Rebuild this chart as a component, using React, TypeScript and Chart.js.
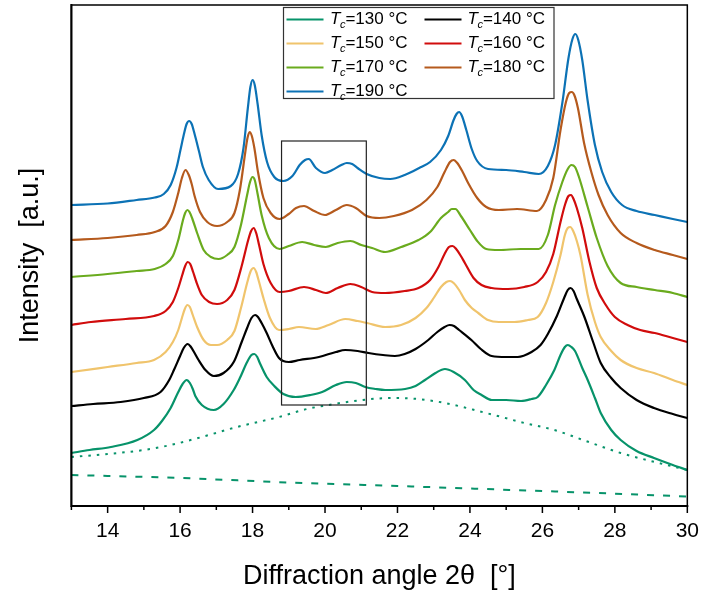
import React, { useEffect, useRef } from "react";
import { Chart, registerables } from "chart.js";

Chart.register(...registerables);

// ---------- data ----------
const X_MIN = 13;
const X_MAX = 30;
const Y_MIN = 0;
const Y_MAX = 501;
const xTickValues = [13, 14, 15, 16, 17, 18, 19, 20, 21, 22, 23, 24, 25, 26, 27, 28, 29, 30];

const seriesTemps = ["130", "140", "150", "160", "170", "180", "190"];
const seriesColors = ["#07936a", "#000000", "#f0c46c", "#d10c0c", "#6aab1e", "#b55a1d", "#0c72b5"];

// [2θ, intensity] pairs, one list per crystallisation temperature
const s190: number[][] = [[13,301],[14,302.5],[14.8,306],[15.3,308.5],[15.55,312],[15.74,321],[15.9,338],[16.01,356],[16.1,371],[16.18,382],[16.25,385],[16.32,382],[16.4,372],[16.52,355],[16.63,339],[16.79,326],[17.05,317],[17.4,320],[17.6,332],[17.75,358],[17.87,398],[17.94,419],[18.0,426],[18.06,421],[18.14,402],[18.25,371],[18.4,344],[18.6,329],[18.85,325],[19.1,330],[19.3,341],[19.45,346],[19.55,347],[19.75,338],[20.0,333],[20.2,336],[20.45,341],[20.6,343],[20.75,342],[20.9,338],[21.15,332],[21.5,328],[21.8,327],[22.2,331],[22.6,338],[22.9,344],[23.2,356],[23.4,370],[23.55,386],[23.63,392],[23.7,394],[23.78,390],[23.9,376],[24.05,357],[24.2,345],[24.5,337],[25.0,336],[25.5,334],[25.9,332],[26.15,340],[26.35,361],[26.55,403],[26.72,448],[26.83,467],[26.91,472],[26.99,466],[27.1,446],[27.25,405],[27.45,361],[27.65,334],[27.9,314],[28.2,301],[28.6,295],[29.1,291],[29.6,287],[30,284]];

const s180: number[][] = [[13,266],[14,268],[14.8,271],[15.3,274],[15.6,280],[15.8,294],[15.95,313],[16.05,328],[16.15,336],[16.24,331],[16.32,322],[16.4,310],[16.55,294],[16.75,284],[17.02,280],[17.3,284],[17.5,293],[17.65,316],[17.8,354],[17.86,368],[17.92,374],[17.98,370],[18.05,358],[18.15,334],[18.3,308],[18.5,293],[18.75,287],[19.0,292],[19.2,298],[19.42,300],[19.7,295],[20.0,291],[20.3,296],[20.6,301],[20.85,298],[21.15,290],[21.5,288],[21.9,290],[22.4,296],[22.8,306],[23.1,319],[23.3,334],[23.45,344],[23.55,346],[23.65,343],[23.8,334],[23.95,323],[24.2,308],[24.45,299],[24.8,296],[25.3,297],[25.85,295],[26.1,306],[26.3,328],[26.5,376],[26.65,404],[26.74,413],[26.81,414],[26.88,411],[26.98,398],[27.15,363],[27.35,334],[27.55,311],[27.8,291],[28.16,273],[28.6,263],[29.1,256],[29.6,251],[30,247]];

const s170: number[][] = [[13,229],[14,232],[14.8,235],[15.3,237],[15.6,242],[15.8,250],[15.95,266],[16.08,286],[16.14,293],[16.2,296],[16.26,294],[16.34,287],[16.47,273],[16.65,256],[16.85,249],[17.06,247],[17.3,251],[17.5,259],[17.68,281],[17.85,311],[17.93,324],[18.0,329],[18.06,326],[18.14,312],[18.25,291],[18.45,268],[18.75,257],[19.0,260],[19.37,264],[19.7,261],[20.02,259],[20.35,263],[20.7,265],[21.0,261],[21.3,258],[21.66,254],[22.1,259],[22.58,266],[22.9,274],[23.2,288],[23.4,294],[23.5,297],[23.6,297],[23.75,290],[24.0,276],[24.2,265],[24.45,257],[24.8,256],[25.4,257],[25.9,257],[26.15,271],[26.35,301],[26.55,324],[26.7,337],[26.8,341],[26.9,339],[27.0,330],[27.25,299],[27.5,268],[27.8,240],[28.16,223],[28.6,219],[29.1,216],[29.6,213],[30,209]];

const s160: number[][] = [[13,181],[13.54,184],[14.5,187],[15.28,190],[15.6,195],[15.8,204],[15.95,218],[16.06,231],[16.14,240],[16.21,244],[16.28,242],[16.36,234],[16.45,224],[16.6,211],[16.8,204],[17.02,202],[17.3,206],[17.5,216],[17.7,240],[17.88,266],[17.96,275],[18.03,278],[18.1,273],[18.18,261],[18.3,242],[18.5,223],[18.75,214],[19.0,215],[19.42,219],[19.75,216],[20.02,213],[20.35,218],[20.7,222],[21.0,219],[21.3,214],[21.66,213],[22.2,215],[22.58,218],[22.9,226],[23.13,239],[23.3,252],[23.42,259],[23.52,260],[23.62,257],[23.75,250],[23.86,243],[24.1,228],[24.32,221],[24.6,218],[25.05,217],[25.5,219],[25.87,224],[26.1,234],[26.3,252],[26.5,284],[26.63,302],[26.72,310],[26.79,311],[26.86,307],[26.95,298],[27.1,278],[27.3,244],[27.5,218],[27.75,201],[28.0,189],[28.35,181],[28.7,176],[29.1,173],[29.6,168],[30,164]];

const s150: number[][] = [[13,134],[14,139],[14.8,143],[15.28,146],[15.6,154],[15.8,164],[15.95,176],[16.05,188],[16.13,197],[16.2,201],[16.27,199],[16.35,191],[16.47,179],[16.65,166],[16.85,161],[17.02,161],[17.3,166],[17.5,175],[17.68,198],[17.85,223],[17.95,235],[18.03,238],[18.1,234],[18.18,224],[18.3,208],[18.48,188],[18.73,176],[19.0,177],[19.28,179],[19.74,177],[20.1,181],[20.56,187],[20.9,185],[21.16,183],[21.66,179],[22.1,181],[22.5,188],[22.8,198],[23.0,208],[23.2,219],[23.35,224],[23.45,225],[23.55,223],[23.7,216],[23.86,206],[24.05,198],[24.23,193],[24.5,186],[24.8,184],[25.23,184],[25.6,186],[25.87,189],[26.1,203],[26.3,224],[26.5,251],[26.62,271],[26.7,278],[26.77,279],[26.85,275],[26.95,265],[27.05,251],[27.25,211],[27.45,184],[27.61,169],[27.9,155],[28.16,146],[28.6,138],[29.08,133],[29.6,126],[30,121]];

const s140: number[][] = [[13,100],[13.6,102],[14.36,104],[15.0,108],[15.46,114],[15.7,126],[15.83,136],[16.0,150],[16.1,158],[16.21,162],[16.3,159],[16.4,153],[16.51,146],[16.7,136],[16.93,130],[17.2,133],[17.48,144],[17.7,164],[17.85,178],[17.97,188],[18.07,191],[18.15,189],[18.25,183],[18.39,173],[18.55,160],[18.73,148],[19.0,144],[19.3,146],[19.83,149],[20.3,154],[20.56,156],[20.9,155],[21.2,153],[21.6,151],[21.93,150],[22.2,152],[22.5,157],[22.85,166],[23.1,174],[23.3,179],[23.44,181],[23.56,180],[23.7,176],[24.04,166],[24.3,157],[24.6,150],[25.0,149],[25.32,149],[25.7,154],[25.95,161],[26.15,172],[26.4,190],[26.6,208],[26.7,216],[26.78,218],[26.86,215],[26.95,207],[27.16,189],[27.4,164],[27.61,143],[27.9,128],[28.16,118],[28.6,106],[29.08,98],[29.6,92],[30,88]];

const s130: number[][] = [[13,53],[13.5,56],[14.09,59],[14.82,66],[15.28,76],[15.5,85],[15.74,98],[15.95,114],[16.07,122],[16.18,126],[16.27,123],[16.35,117],[16.42,110],[16.6,101],[16.93,96],[17.2,102],[17.48,116],[17.65,128],[17.85,144],[17.97,151],[18.05,152],[18.13,149],[18.2,143],[18.39,129],[18.6,120],[18.85,112],[19.19,109],[19.6,111],[19.92,114],[20.3,121],[20.6,124],[20.85,123],[21.11,119],[21.4,117],[21.66,116],[22.21,117],[22.5,120],[22.76,126],[23.05,133],[23.31,137],[23.55,134],[23.86,126],[24.1,116],[24.32,111],[24.6,106],[25.0,106],[25.41,105],[25.7,107],[25.87,109],[26.1,121],[26.33,136],[26.5,151],[26.62,159],[26.7,161],[26.8,159],[26.9,155],[27.1,138],[27.25,126],[27.45,108],[27.61,93],[27.9,76],[28.16,66],[28.6,55],[29.08,48],[29.6,41],[30,36]];

// amorphous halo (dotted) and baseline (dashed) of the 130 °C fit
const halo130: number[][] = [[13,49],[14,52],[15,56],[15.74,61],[16.5,68],[17.57,79],[18.73,89],[19.5,97],[20.1,101],[20.8,105],[21.48,107.5],[22.0,108],[22.39,107.5],[22.9,105.5],[23.31,103],[23.8,99],[24.23,95],[24.77,90],[25.5,83],[26.33,76],[27.2,65],[28.16,53],[29.1,44],[30,36]];
const base130: number[][] = [[13,31],[16,28],[19,23.5],[22,20],[24.77,16.5],[27.5,13],[30,9.5]];

// inset frame marking the 19–21° region
const boxX = [18.8, 21.14];
const boxY = [101, 365];

const xTitle = "Diffraction angle 2θ  [°]";
const yTitle = "Intensity  [a.u.]";

const FONT = "'Liberation Sans', Arial, Helvetica, sans-serif";

const toPts = (arr: number[][]) => arr.map(([x, y]) => ({ x, y }));
const seriesData = [s130, s140, s150, s160, s170, s180, s190];

const framePlugin = {
  id: "frameAndExtras",
  afterDatasetsDraw(chart: any) {
    const { ctx, chartArea, scales } = chart;
    const xs = scales.x;
    const ys = scales.y;
    ctx.save();
    // inset box
    const bx0 = xs.getPixelForValue(boxX[0]);
    const bx1 = xs.getPixelForValue(boxX[1]);
    const by0 = ys.getPixelForValue(boxY[1]);
    const by1 = ys.getPixelForValue(boxY[0]);
    ctx.strokeStyle = "#222";
    ctx.lineWidth = 1.2;
    ctx.strokeRect(bx0, by0, bx1 - bx0, by1 - by0);

    // frame
    ctx.strokeStyle = "#000";
    ctx.lineWidth = 1.5;
    ctx.strokeRect(chartArea.left, chartArea.top, chartArea.right - chartArea.left, chartArea.bottom - chartArea.top);
    ctx.lineWidth = 2;
    ctx.beginPath();
    ctx.moveTo(chartArea.left, chartArea.top - 1);
    ctx.lineTo(chartArea.left, chartArea.bottom);
    ctx.lineTo(chartArea.right + 1, chartArea.bottom);
    ctx.stroke();

    // x ticks (major every 2, minor every 1)
    ctx.lineWidth = 1.5;
    xTickValues.forEach((v) => {
      const px = xs.getPixelForValue(v);
      const len = v % 2 === 0 ? 7 : 4;
      ctx.beginPath();
      ctx.moveTo(px, chartArea.bottom);
      ctx.lineTo(px, chartArea.bottom + len);
      ctx.stroke();
    });

    // legend
    const bx = 283.5, byTop = 7.5, bw = 270.5, bh = 91;
    ctx.fillStyle = "#fff";
    ctx.fillRect(bx, byTop, bw, bh);
    ctx.strokeStyle = "#333";
    ctx.lineWidth = 1.2;
    ctx.strokeRect(bx, byTop, bw, bh);
    ctx.textBaseline = "middle";
    seriesTemps.forEach((t, i) => {
      const col = i % 2;
      const row = Math.floor(i / 2);
      const lx0 = col ? 424.5 : 286.5;
      const lx1 = lx0 + 37;
      const tx = col ? 467.5 : 330;
      const y = 19.5 + row * 24;
      ctx.strokeStyle = seriesColors[i];
      ctx.lineWidth = 2;
      ctx.beginPath();
      ctx.moveTo(lx0, y);
      ctx.lineTo(lx1, y);
      ctx.stroke();
      ctx.fillStyle = "#000";
      ctx.font = `italic 17px ${FONT}`;
      ctx.fillText("T", tx, y);
      let w = ctx.measureText("T").width;
      ctx.font = `italic 11px ${FONT}`;
      ctx.fillText("c", tx + w - 0.5, y + 5);
      w += ctx.measureText("c").width - 0.5;
      ctx.font = `17px ${FONT}`;
      ctx.fillText(`=${t} °C`, tx + w, y);
    });
    ctx.restore();
  },
};

export default function App() {
  const ref = useRef<HTMLCanvasElement | null>(null);
  useEffect(() => {
    if (!ref.current) return;
    const datasets: any[] = seriesTemps.map((t, i) => ({
      label: `Tc=${t} °C`,
      data: toPts(seriesData[i]),
      borderColor: seriesColors[i],
      borderWidth: 2.2,
      pointRadius: 0,
      cubicInterpolationMode: "monotone",
      fill: false,
    }));
    datasets.push({
      label: "halo",
      data: toPts(halo130),
      borderColor: seriesColors[0],
      borderWidth: 2,
      borderDash: [2.5, 6],
      pointRadius: 0,
      cubicInterpolationMode: "monotone",
      fill: false,
    });
    datasets.push({
      label: "baseline",
      data: toPts(base130),
      borderColor: seriesColors[0],
      borderWidth: 2,
      borderDash: [7, 9],
      pointRadius: 0,
      cubicInterpolationMode: "monotone",
      fill: false,
    });
    const chart = new Chart(ref.current, {
      type: "line",
      data: { datasets },
      options: {
        animation: false,
        responsive: false,
        maintainAspectRatio: false,
        layout: { padding: { top: 5, right: 14.5, left: 0, bottom: 0 } },
        plugins: { legend: { display: false }, tooltip: { enabled: false } },
        scales: {
          x: {
            type: "linear",
            min: X_MIN,
            max: X_MAX,
            afterFit: (s: any) => {
              s.height = 88;
            },
            afterBuildTicks: (s: any) => {
              s.ticks = xTickValues.map((v) => ({ value: v }));
            },
            ticks: {
              autoSkip: false,
              maxRotation: 0,
              color: "#000",
              padding: 6,
              font: { family: FONT, size: 21 },
              callback: (v: any) => (Number(v) % 2 === 0 ? String(v) : ""),
            },
            grid: { display: true, drawOnChartArea: false, drawTicks: true, tickLength: 7, tickColor: "rgba(0,0,0,0)" },
            border: { display: false },
            title: {
              display: true,
              text: xTitle,
              color: "#000",
              font: { family: FONT, size: 27 },
              padding: { top: 0, bottom: 1 },
            },
          },
          y: {
            type: "linear",
            min: Y_MIN,
            max: Y_MAX,
            afterFit: (s: any) => {
              s.width = 71.4;
            },
            ticks: { display: false },
            grid: { display: false },
            border: { display: false },
            title: {
              display: true,
              text: yTitle,
              color: "#000",
              font: { family: FONT, size: 27 },
              padding: { top: 14, bottom: 0 },
            },
          },
        },
      },
      plugins: [framePlugin],
    });
    return () => chart.destroy();
  }, []);
  return (
    <div style={{ position: "absolute", left: 0, top: 0, width: 705, height: 594, background: "#fff" }}>
      <canvas ref={ref} width={705} height={594} style={{ display: "block", width: 705, height: 594 }} />
    </div>
  );
}
